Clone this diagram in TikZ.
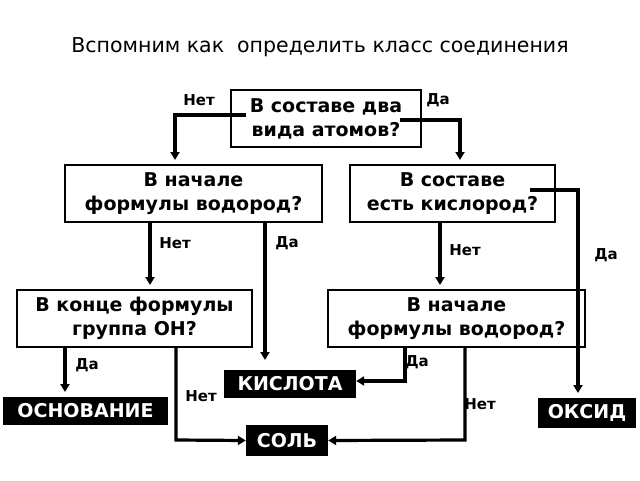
\documentclass[tikz,border=0pt]{standalone}
\usepackage{fontspec}
\setmainfont{DejaVu Sans}
\usetikzlibrary{arrows.meta}
\begin{document}
\begin{tikzpicture}[x=1pt,y=-1pt,
 q/.style={draw,line width=1.6pt,inner sep=0pt,font=\bfseries\fontsize{19}{24}\selectfont,align=center},
 ans/.style={fill=black,text=white,inner sep=0pt,font=\bfseries\fontsize{19}{22}\selectfont},
 lab/.style={font=\bfseries\fontsize{15}{18}\selectfont},
 ar/.style={line width=3.2pt,-{Triangle[length=8pt,width=9pt]}}]
\useasboundingbox (0,0) rectangle (640,480);
\node[font=\fontsize{20.5}{24}\selectfont] (title) at (320,47) {Вспомним как\ \ определить класс соединения};
\node[q,minimum width=190pt,minimum height=57pt] (q1) at (326,118.5) {В составе два\\ вида атомов?};
\node[q,minimum width=257pt,minimum height=57pt] (q2) at (193.5,193.5) {В начале\\формулы водород?};
\node[q,minimum width=205pt,minimum height=57pt] (q3) at (452.5,193.5) {В составе\\есть кислород?};
\node[q,minimum width=235pt,minimum height=57pt] (q4) at (134.5,318.5) {В конце формулы\\группа ОН?};
\node[q,minimum width=257pt,minimum height=57pt] (q5) at (456.5,318.5) {В начале\\формулы водород?};
\node[ans,minimum width=132pt,minimum height=28pt] (acid) at (290,384) {КИСЛОТА};
\node[ans,minimum width=165pt,minimum height=28pt] (base) at (85.5,411) {ОСНОВАНИЕ};
\node[ans,minimum width=98pt,minimum height=30pt] (oxide) at (587,413) {ОКСИД};
\node[ans,minimum width=82pt,minimum height=31pt] (salt) at (287,440.5) {СОЛЬ};
\draw[ar] (246,115) -- (175,115) -- (175,160);
\draw[ar] (400,120) -- (460,120) -- (460,160);
\draw[ar] (q2.south -| 150,0) -- (150,285);
\draw[ar] (q2.south -| 265,0) -- (265,360);
\draw[ar] (q3.south -| 440,0) -- (440,285);
\draw[ar] (530,190) -- (578,190) -- (578,393);
\draw[ar] (q4.south -| 65,0) -- (65,392);
\draw[ar] (q4.south -| 176,0) -- (176,440) -- (salt.west);
\draw[ar] (q5.south -| 405,0) -- (405,381) -- (acid.east |- 0,381);
\draw[ar] (q5.south -| 465,0) -- (465,440) -- (salt.east);
\node[lab] (l1) at (199,100) {Нет};
\node[lab] (l2) at (438,100) {Да};
\node[lab] (l3) at (175,243) {Нет};
\node[lab] (l4) at (287,243) {Да};
\node[lab] (l5) at (465,250) {Нет};
\node[lab] (l6) at (606,255) {Да};
\node[lab] (l7) at (87,365) {Да};
\node[lab] (l8) at (201,396) {Нет};
\node[lab] (l9) at (417,362) {Да};
\node[lab] (l10) at (480,404) {Нет};
\end{tikzpicture}
\end{document}
